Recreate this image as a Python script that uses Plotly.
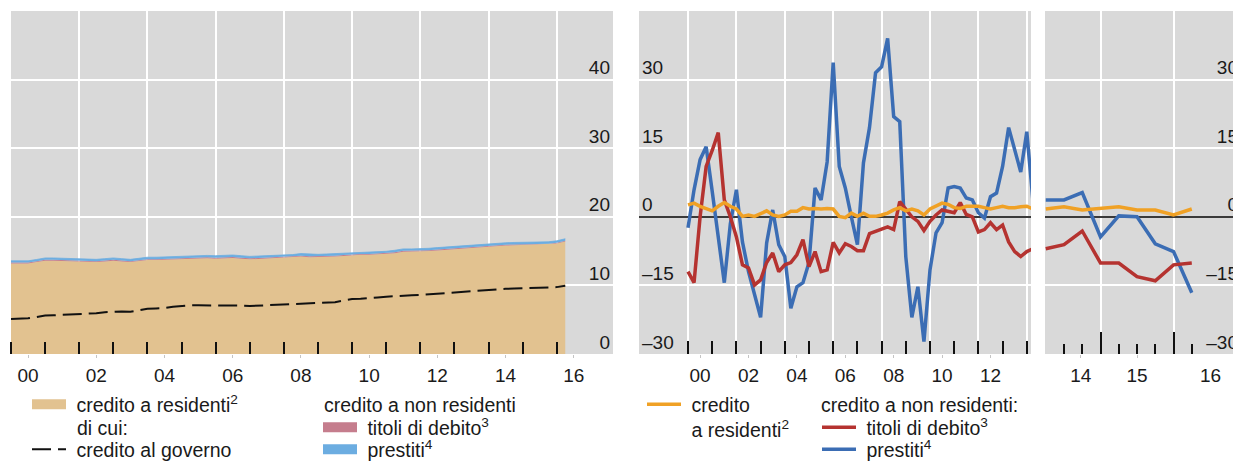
import plotly.graph_objects as go

FONT = "Liberation Sans, Arial, sans-serif"
TXT = "#1a1a1a"
TAN, PINK, LBLUE = "#E2C290", "#C57D8D", "#6CADE1"
ORANGE, RED, BLUE = "#F0A125", "#B53330", "#3B6DB4"
BG = "#D9D9D9"
NB = "\u00a0"


def qpos(label):
    y, q = label.split("Q")
    return int(y) + (int(q) - 1) / 4


# ---------------- categories (quarters) ----------------
LEFT_Q = [f"{y}Q{q}" for y in range(2000, 2017) for q in (1, 2, 3, 4)][:66]
MID_Q = [f"{y}Q{q}" for y in range(2000, 2015) for q in (1, 2, 3, 4)][:58]
RIGHT_Q = ["2014Q2", "2014Q3", "2014Q4", "2015Q1", "2015Q2",
           "2015Q3", "2015Q4", "2016Q1", "2016Q2"]

# ---------------- left panel: levels ----------------
residenti_lvl = [13.2, 13.2, 13.2, 13.4, 13.6, 13.6, 13.55, 13.55, 13.55, 13.5, 13.4, 13.5,
                 13.6, 13.5, 13.4, 13.55, 13.7, 13.7, 13.75, 13.85, 13.9, 13.95, 14.0, 13.95,
                 13.9, 13.95, 14.0, 13.9, 13.8, 13.85, 13.9, 13.95, 14.0, 14.05, 14.2, 14.1,
                 14.1, 14.15, 14.2, 14.3, 14.4, 14.45, 14.45, 14.5, 14.55, 14.7, 14.9, 14.9,
                 14.9, 15.0, 15.1, 15.2, 15.25, 15.3, 15.4, 15.5, 15.6, 15.7, 15.8, 15.85,
                 15.9, 15.9, 15.9, 15.95, 16.1, 16.4]
titoli_lvl = [0.12, 0.12, 0.12, 0.12, 0.13, 0.13, 0.13, 0.13, 0.13, 0.13, 0.13, 0.13,
              0.13, 0.13, 0.13, 0.13, 0.13, 0.13, 0.13, 0.13, 0.14, 0.14, 0.14, 0.14,
              0.14, 0.14, 0.14, 0.14, 0.14, 0.14, 0.14, 0.14, 0.14, 0.14, 0.14, 0.14,
              0.14, 0.14, 0.14, 0.14, 0.14, 0.14, 0.14, 0.14, 0.14, 0.14, 0.14, 0.14,
              0.13, 0.13, 0.13, 0.13, 0.13, 0.13, 0.13, 0.13, 0.13, 0.13, 0.13, 0.13,
              0.12, 0.12, 0.12, 0.12, 0.12, 0.12]
prestiti_lvl = [0.26, 0.26, 0.26, 0.26, 0.27, 0.27, 0.27, 0.27, 0.27, 0.27, 0.27, 0.27,
                0.27, 0.27, 0.27, 0.27, 0.28, 0.28, 0.28, 0.28, 0.28, 0.28, 0.28, 0.28,
                0.29, 0.29, 0.29, 0.29, 0.29, 0.29, 0.29, 0.29, 0.30, 0.30, 0.30, 0.30,
                0.29, 0.29, 0.29, 0.29, 0.28, 0.28, 0.28, 0.28, 0.28, 0.28, 0.28, 0.28,
                0.28, 0.28, 0.28, 0.28, 0.28, 0.28, 0.28, 0.28, 0.28, 0.28, 0.28, 0.28,
                0.28, 0.28, 0.28, 0.28, 0.28, 0.28]
governo_lvl = [5.1, 5.15, 5.2, 5.4, 5.6, 5.65, 5.7, 5.8, 5.9, 5.9, 5.95, 6.1,
               6.2, 6.2, 6.15, 6.4, 6.6, 6.65, 6.7, 6.9, 7.05, 7.1, 7.1, 7.1,
               7.1, 7.1, 7.15, 7.05, 7.0, 7.05, 7.1, 7.2, 7.3, 7.3, 7.35, 7.4,
               7.45, 7.5, 7.55, 7.8, 8.0, 8.05, 8.1, 8.25, 8.35, 8.45, 8.5, 8.55,
               8.6, 8.7, 8.8, 8.85, 8.9, 9.0, 9.1, 9.2, 9.3, 9.4, 9.5, 9.55,
               9.6, 9.65, 9.7, 9.7, 9.75, 9.95]

# ---------------- middle panel: growth rates ----------------
residenti_mid = [2.6, 3.0, 2.3, 1.8, 1.3, 2.3, 3.1, 2.3, 1.7, 0.1, 0.4, 0.1,
                 0.8, 1.3, 0.4, 0.1, 0.4, 1.2, 1.2, 2.0, 1.7, 1.8, 1.7, 1.8,
                 1.7, 0.1, -0.2, 0.8, 0.1, 0.8, 0.1, 0.1, 0.4, 0.8, 1.5, 2.0,
                 1.3, 1.7, 1.3, 0.4, 1.7, 2.3, 3.0, 2.7, 2.0, 1.8, 2.3, 2.3,
                 2.3, 2.0, 1.7, 2.0, 2.3, 2.0, 2.0, 2.2, 2.3, 1.7]
titoli_mid = [-12.0, -14.4, 0.0, 11.0, 14.5, 18.4, 3.7, 0.0, -4.4, -10.5, -11.2, -14.9,
              -13.8, -10.0, -7.9, -12.0, -10.5, -10.0, -8.3, -5.0, -10.9, -7.6, -12.0, -11.6,
              -5.6, -7.9, -5.9, -6.5, -7.4, -7.4, -3.7, -3.3, -2.7, -2.2, -2.8, 3.3,
              1.5, 0.0, -1.0, -3.0, -1.0, 0.4, 1.5, 1.2, 0.9, 3.1, 0.5, 0.0,
              -3.3, -2.8, -1.3, -2.8, -1.8, -5.5, -7.6, -8.7, -7.6, -7.0]
prestiti_mid = [-2.4, 5.9, 12.5, 15.3, 5.6, -4.7, -14.4, -1.5, 5.9, -5.5, -12.0, -17.0,
                -22.0, -5.7, 1.5, -6.1, -8.7, -20.0, -15.3, -14.4, -10.0, 6.3, 3.7, 12.0,
                33.7, 11.0, 6.3, 0.0, -6.1, 11.8, 19.5, 31.5, 32.8, 39.0, 21.9, 20.8,
                -8.7, -22.0, -15.3, -27.3, -11.6, -3.5, -1.3, 6.3, 6.6, 6.3, 4.1, 3.7,
                0.9, -0.3, 4.4, 5.2, 11.0, 19.5, 14.7, 9.8, 18.6, 3.7]

# ---------------- right panel: recent quarters ----------------
residenti_r = [1.7, 2.2, 1.5, 1.9, 2.2, 1.5, 1.5, 0.4, 1.7]
titoli_r = [-7.0, -6.1, -3.1, -10.1, -10.1, -13.1, -14.0, -10.5, -10.1]
prestiti_r = [3.7, 3.7, 5.3, -4.4, 0.2, 0.0, -5.9, -7.6, -16.6]

# ---------------- tick labels ----------------
LEFT_LABEL_POS = [2000.5, 2002.5, 2004.5, 2006.5, 2008.5, 2010.5, 2012.5, 2014.5, 2016.5]
LEFT_LABELS = ["00", "02", "04", "06", "08", "10", "12", "14", "16"]
MID_LABEL_POS = [2000.5, 2002.5, 2004.5, 2006.5, 2008.5, 2010.5, 2012.5]
MID_LABELS = ["00", "02", "04", "06", "08", "10", "12"]
RIGHT_LABEL_POS = [2014.73, 2015.5, 2016.5]
RIGHT_LABELS = ["14", "15", "16"]
LEFT_YEARS = list(range(2000, 2017))
MID_YEARS = list(range(2000, 2015))
LEFT_GRID = [2002, 2004, 2006, 2008, 2010, 2012, 2014, 2016]
MID_GRID = [2000, 2002, 2004, 2006, 2008, 2010, 2012, 2014]
RIGHT_GRID = [2015, 2016]
LVL_TICKS = [0, 10, 20, 30, 40]
PCT_TICKS = [-30, -15, 0, 15, 30]
PCT_TEXT = ["\u201330", "\u201315", "0", "15", "30"]

xl = [qpos(q) for q in LEFT_Q]
xm = [qpos(q) for q in MID_Q]
xr = [qpos(q) for q in RIGHT_Q]

fig = go.Figure()

# left: stacked areas
fig.add_trace(go.Scatter(x=xl, y=residenti_lvl, stackgroup="lvl", mode="lines",
                         line=dict(width=0, color=TAN), fillcolor=TAN,
                         showlegend=False, xaxis="x", yaxis="y"))
fig.add_trace(go.Scatter(x=xl, y=titoli_lvl, stackgroup="lvl", mode="lines",
                         line=dict(width=0, color=PINK), fillcolor=PINK,
                         showlegend=False, xaxis="x", yaxis="y"))
fig.add_trace(go.Scatter(x=xl, y=prestiti_lvl, stackgroup="lvl", mode="lines",
                         line=dict(width=0.8, color=LBLUE), fillcolor=LBLUE,
                         showlegend=False, xaxis="x", yaxis="y"))
fig.add_trace(go.Scatter(x=xl, y=governo_lvl, mode="lines",
                         line=dict(color="#111111", width=2, dash="19px,7px"),
                         name=NB + "credito al governo", legend="legend2",
                         xaxis="x4", yaxis="y"))
# legend swatches for the areas
fig.add_trace(go.Scatter(x=[None], y=[None], mode="lines", line=dict(color=TAN, width=10),
                         name=NB + "credito a residenti<sup>2</sup>", legend="legend",
                         xaxis="x", yaxis="y"))
fig.add_trace(go.Scatter(x=[None], y=[None], mode="lines", line=dict(color=PINK, width=10),
                         name=NB + "titoli di debito<sup>3</sup>", legend="legend3",
                         xaxis="x", yaxis="y"))
fig.add_trace(go.Scatter(x=[None], y=[None], mode="lines", line=dict(color=LBLUE, width=10),
                         name=NB + "prestiti<sup>4</sup>", legend="legend4",
                         xaxis="x", yaxis="y"))

# middle
LW = 3.5
fig.add_trace(go.Scatter(x=xm, y=prestiti_mid, mode="lines", line=dict(color=BLUE, width=LW),
                         name=NB + "prestiti<sup>4</sup>", legend="legend7",
                         xaxis="x2", yaxis="y2"))
fig.add_trace(go.Scatter(x=xm, y=titoli_mid, mode="lines", line=dict(color=RED, width=LW),
                         name=NB + "titoli di debito<sup>3</sup>", legend="legend6",
                         xaxis="x2", yaxis="y2"))
fig.add_trace(go.Scatter(x=xm, y=residenti_mid, mode="lines", line=dict(color=ORANGE, width=LW),
                         name=NB + "credito<br>" + NB + "a residenti<sup>2</sup>",
                         legend="legend5", xaxis="x5", yaxis="y2"))
# right
fig.add_trace(go.Scatter(x=xr, y=prestiti_r, mode="lines", line=dict(color=BLUE, width=LW),
                         showlegend=False, xaxis="x3", yaxis="y3"))
fig.add_trace(go.Scatter(x=xr, y=titoli_r, mode="lines", line=dict(color=RED, width=LW),
                         showlegend=False, xaxis="x3", yaxis="y3"))
fig.add_trace(go.Scatter(x=xr, y=residenti_r, mode="lines", line=dict(color=ORANGE, width=LW),
                         showlegend=False, xaxis="x6", yaxis="y3"))

# page shows the figure with an 8px body offset: design in window pixels
OFF = 8
W, H = 1241 - OFF, 461 - OFF


def px(v):
    return (v - OFF) / W


def py(v):
    return 1 - (v - OFF) / H


YDOM = [py(354), py(11)]
D1 = [px(11), px(613)]
D2 = [px(639), px(1031)]
D3 = [px(1045), 1.0]
R1 = [2000.0, 2017.65]
R2 = [1997.975, 2014.174]
R3 = [2014.24, 2016.924]

tickfont = dict(family=FONT, size=19, color=TXT)


def label_axis(domain, rng, pos, text, minor_vals, minor_len, anchor):
    return dict(domain=domain, range=rng, anchor=anchor, tickmode="array",
                tickvals=pos, ticktext=text, ticks="outside", ticklen=3,
                tickcolor="#c4c4c4", tickwidth=1, showgrid=False, zeroline=False,
                showline=False, tickfont=tickfont, ticklabelstandoff=1,
                ticklabeloverflow="allow",
                minor=dict(tickmode="array", tickvals=minor_vals, ticks="inside",
                           ticklen=minor_len, tickwidth=1.5, tickcolor="#111111",
                           showgrid=False))


def grid_axis(over, rng, vals, anchor, ticks="", ticklen=0):
    return dict(overlaying=over, range=rng, anchor=anchor, tickmode="array",
                tickvals=vals, showgrid=True, gridcolor="white", gridwidth=1.5,
                showticklabels=False, ticks=ticks, ticklen=ticklen, tickwidth=1.5,
                tickcolor="#111111", zeroline=False, showline=False)


def y_axis(rng, vals, text, side, anchor, zero):
    d = dict(domain=YDOM, range=rng, anchor=anchor, side=side, tickmode="array",
             tickvals=vals, ticktext=text, ticklabelposition="inside",
             ticklabelshift=-12, ticks="", showgrid=True, gridcolor="white",
             gridwidth=1.5, showline=False, tickfont=tickfont)
    if zero:
        d.update(zeroline=True, zerolinecolor="#3a3a3a", zerolinewidth=1.5)
    else:
        d.update(zeroline=False)
    return d


# right panel: main axis carries grid + ticks, free overlay axis carries labels
xaxis3 = dict(domain=D3, range=R3, anchor="y3", tickmode="array", tickvals=RIGHT_GRID,
              showgrid=True, gridcolor="white", gridwidth=1.5, showticklabels=False,
              ticks="inside", ticklen=22, tickwidth=1.5, tickcolor="#111111",
              zeroline=False, showline=False,
              minor=dict(tickmode="array", tickvals=xr, ticks="inside", ticklen=10,
                         tickwidth=1.5, tickcolor="#111111", showgrid=False))
xaxis6 = dict(overlaying="x3", range=R3, anchor="free", position=YDOM[0],
              tickmode="array", tickvals=RIGHT_LABEL_POS[:2], ticktext=RIGHT_LABELS[:2],
              ticks="outside", ticklen=3, tickcolor="#c4c4c4", tickwidth=1,
              showgrid=False, zeroline=False, showline=False, tickfont=tickfont,
              ticklabelstandoff=1, ticklabeloverflow="allow")

legfont = dict(family=FONT, size=19.5, color=TXT)


def leg(xpix, rowc, valign="middle"):
    return dict(x=px(xpix), y=py(rowc - 20), xanchor="left", yanchor="top",
                bgcolor="rgba(0,0,0,0)", borderwidth=0, font=legfont,
                itemwidth=34, valign=valign, itemclick=False)


ROW1, ROW2, ROW3 = 405, 428, 450

ann_font = dict(family=FONT, size=19.5, color=TXT)
annotations = [
    dict(text="di cui:", x=px(75), y=py(ROW2), xref="paper", yref="paper",
         xanchor="left", yanchor="middle", showarrow=False, font=ann_font),
    dict(text="credito a non residenti", x=px(322), y=py(ROW1), xref="paper", yref="paper",
         xanchor="left", yanchor="middle", showarrow=False, font=ann_font),
    dict(text="credito a non residenti:", x=px(819), y=py(ROW1), xref="paper", yref="paper",
         xanchor="left", yanchor="middle", showarrow=False, font=ann_font),
    # last year label of the right panel (the axis hides it next to the inside y labels)
    dict(text=RIGHT_LABELS[2], x=RIGHT_LABEL_POS[2], xref="x3", y=py(375), yref="paper",
         xanchor="center", yanchor="middle", showarrow=False, font=tickfont),
]

fig.update_layout(
    width=W, height=H, margin=dict(l=0, r=0, t=0, b=0, autoexpand=False),
    paper_bgcolor="white", plot_bgcolor=BG,
    font=dict(family=FONT, color=TXT),
    xaxis=label_axis(D1, R1, LEFT_LABEL_POS, LEFT_LABELS, LEFT_YEARS, 12, "y"),
    xaxis2=label_axis(D2, R2, MID_LABEL_POS, MID_LABELS, MID_YEARS, 13, "y2"),
    xaxis3=xaxis3,
    xaxis4=grid_axis("x", R1, LEFT_GRID, "y"),
    xaxis5=grid_axis("x2", R2, MID_GRID, "y2"),
    xaxis6=xaxis6,
    yaxis=y_axis([0, 50], LVL_TICKS, [str(v) for v in LVL_TICKS], "right", "x", False),
    yaxis2=y_axis([-30, 45], PCT_TICKS, PCT_TEXT, "left", "x2", True),
    yaxis3=y_axis([-30, 45], PCT_TICKS, PCT_TEXT, "right", "x3", True),
    legend=leg(27, ROW1),
    legend2=leg(27, ROW3),
    legend3=leg(318, ROW2),
    legend4=leg(318, ROW3),
    legend5=leg(642, ROW1, valign="top"),
    legend6=leg(817, ROW2),
    legend7=leg(817, ROW3),
    annotations=annotations,
)

fig.write_html("out.html")
